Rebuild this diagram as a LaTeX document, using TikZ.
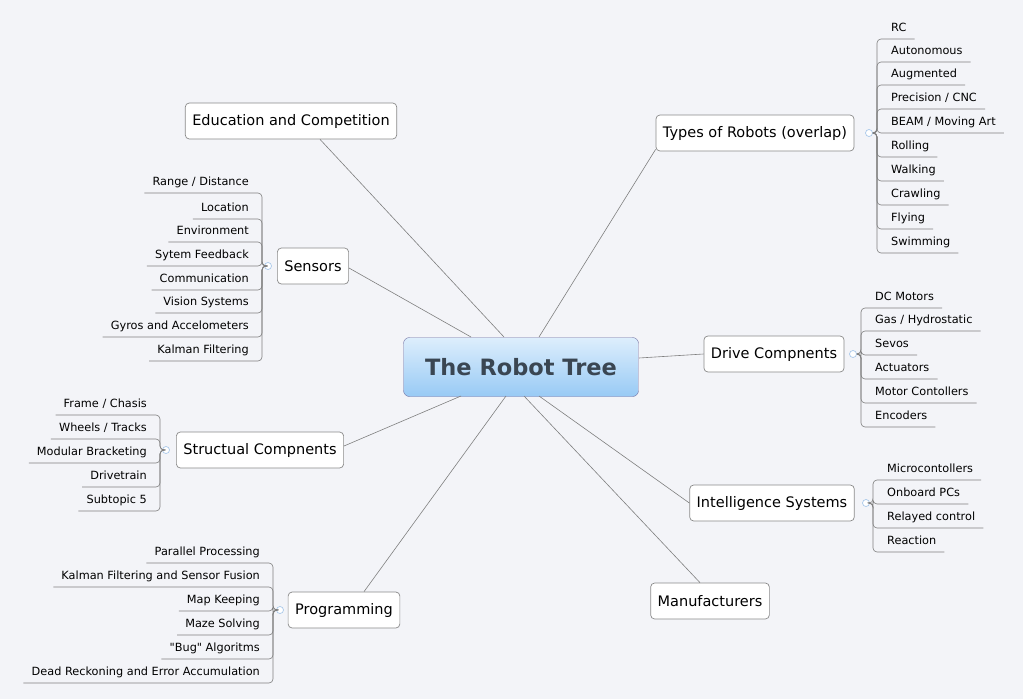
\documentclass[tikz,border=0pt]{standalone}
\usepackage{fontspec}
\setmainfont{DejaVu Sans}
\definecolor{bg}{HTML}{F3F4F8}
\definecolor{ln}{HTML}{7F7F7F}
\definecolor{bord}{HTML}{8A8A8A}
\definecolor{ctop}{HTML}{DDEEFC}
\definecolor{cbot}{HTML}{98CAF5}
\definecolor{ctext}{HTML}{3A4652}
\definecolor{dot}{HTML}{A9C8EA}
\tikzset{
 x=1pt,y=-1pt,
 branch/.style={draw=bord,fill=white,rounded corners=4,font=\fontsize{14.5}{17}\selectfont,minimum height=36,inner xsep=7,line width=0.7},
 central/.style={draw=bord!80!blue,rounded corners=6,top color=ctop,bottom color=cbot,font=\fontsize{22.5}{26}\selectfont\bfseries,text=ctext,minimum width=235,minimum height=59},
 leaf/.style={font=\fontsize{11.3}{13}\selectfont,inner sep=0},
 leafline/.style={draw=ln,line width=0.6,rounded corners=4},
 conn/.style={draw=ln,line width=0.6},
 knob/.style={circle,draw=dot,fill=white,minimum size=7,inner sep=0,line width=0.7},
}
\newcommand\rleaves[5]{% prefix, cx, py, bx, list y/text
 \node[knob] (#1k) at (#2,#3) {};
 \foreach \yy/\tt [count=\i] in {#5}{
   \node[leaf,anchor=base west] (#1\i) at (#4+14,\yy+4) {\tt};
   \coordinate (#1u\i) at ([xshift=8]#1\i.east |- 0,\yy+12);
   \draw[leafline] (#1k.east) -- (#4,#3) -- (#4,\yy+12) -- (#1u\i);
 }}
\newcommand\lleaves[5]{%
 \node[knob] (#1k) at (#2,#3) {};
 \foreach \yy/\tt [count=\i] in {#5}{
   \node[leaf,anchor=base east] (#1\i) at (#4-13,\yy+4) {\tt};
   \coordinate (#1u\i) at ([xshift=-8]#1\i.west |- 0,\yy+12);
   \draw[leafline] (#1k.west) -- (#4,#3) -- (#4,\yy+12) -- (#1u\i);
 }}
\begin{document}
\begin{tikzpicture}
\fill[bg] (0,0) rectangle (1023,699);
\useasboundingbox (0,0) rectangle (1023,699);
\node[central] (c) at (521,367) {The Robot Tree};
\node[branch] (types) at (755,133) {Types of Robots (overlap)};
\node[branch] (drive) at (774,354) {Drive Compnents};
\node[branch] (intel) at (772,503) {Intelligence Systems};
\node[branch] (manu) at (710,601) {Manufacturers};
\node[branch] (edu) at (291,121) {Education and Competition};
\node[branch] (sens) at (313,266) {Sensors};
\node[branch] (struct) at (260,450) {Structual Compnents};
\node[branch] (prog) at (344,610) {Programming};
\draw[conn] (types.south west) ++(0,-2) coordinate (tA) (tA) -- (539,337);
\draw[conn] (drive.west) -- (639,358);
\draw[conn] (intel.west) -- (539,396);
\draw[conn] (manu.north) ++(-10,0) coordinate (mA) (mA) -- (524,396);
\draw[conn] (edu.south) ++(29,0) coordinate (eA) (eA) -- (504,337);
\draw[conn] (sens.east) ++(0,2) coordinate (sA) (sA) -- (471,337);
\draw[conn] (struct.east) ++(0,-4) coordinate (stA) (stA) -- (461,396);
\draw[conn] (prog.north) ++(20,0) coordinate (pA) (pA) -- (506,396);
\rleaves{ty}{869}{133}{877}{27/{RC},50/{Autonomous},73/{Augmented},97/{Precision / CNC},121/{BEAM / Moving Art},145/{Rolling},169/{Walking},193/{Crawling},217/{Flying},241/{Swimming}}
\rleaves{dr}{853}{354}{861}{296/{DC Motors},319/{Gas / Hydrostatic},343/{Sevos},367/{Actuators},391/{Motor Contollers},415/{Encoders}}
\rleaves{in}{866}{503}{873}{468/{Microcontollers},492/{Onboard PCs},516/{Relayed control},540/{Reaction}}
\lleaves{se}{268}{266}{262}{181/{Range / Distance},207/{Location},230/{Environment},254/{Sytem Feedback},278/{Communication},301/{Vision Systems},325/{Gyros and Accelometers},349/{Kalman Filtering}}
\lleaves{st}{166}{450}{160}{403/{Frame / Chasis},427/{Wheels / Tracks},451/{Modular Bracketing},475/{Drivetrain},499/{Subtopic 5}}
\lleaves{pr}{280}{610}{273}{551/{Parallel Processing},575/{Kalman Filtering and Sensor Fusion},599/{Map Keeping},623/{Maze Solving},647/{\textquotedbl Bug\textquotedbl{} Algoritms},671/{Dead Reckoning and Error Accumulation}}
\end{tikzpicture}
\end{document}
